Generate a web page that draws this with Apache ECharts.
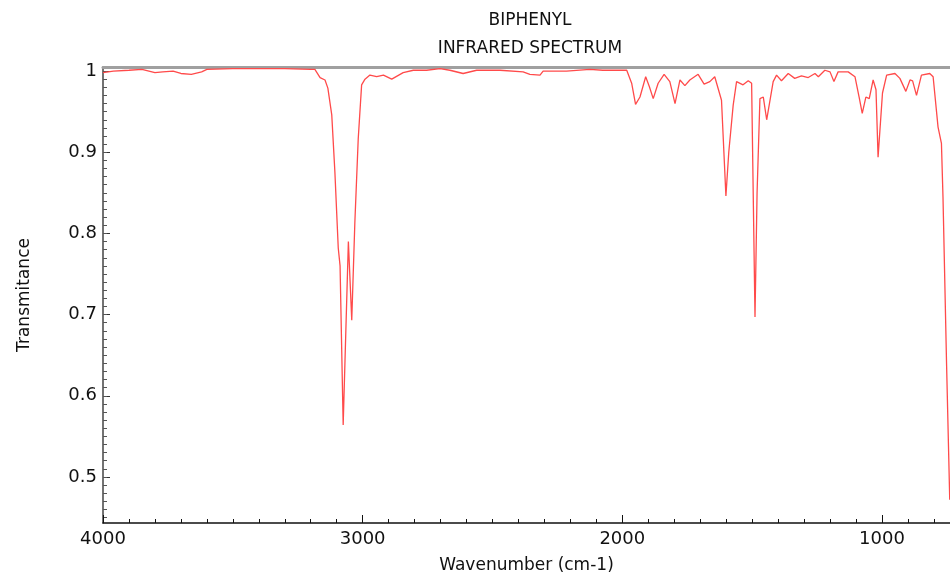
<!DOCTYPE html>
<html>
<head>
<meta charset="utf-8">
<script src="https://cdn.jsdelivr.net/npm/echarts@6/dist/echarts.min.js"></script>
<style>
  html, body { margin: 0; padding: 0; background: #fff; }
  #chart { width: 950px; height: 576px; }
</style>
</head>
<body>
<div id="chart"></div>
<script>
// wavenumber (cm-1)
const wavenumbers = [
  4000, 3960, 3900, 3850, 3800, 3770, 3730, 3700, 3660, 3620, 3600, 3500, 3400, 3300, 3200,
  3184, 3164, 3145, 3134, 3119, 3107, 3094, 3087, 3075, 3055, 3042, 3030, 3017, 3004, 2991,
  2972, 2946, 2920, 2888, 2844, 2805, 2754, 2702, 2664, 2613, 2561, 2471, 2382, 2356, 2317,
  2305, 2215, 2125, 2075, 1983, 1977, 1964, 1949, 1932, 1910, 1896, 1881, 1862, 1839, 1817,
  1797, 1778, 1759, 1740, 1708, 1685, 1663, 1644, 1618, 1601, 1590, 1573, 1560, 1535, 1515,
  1502, 1489, 1481, 1470, 1457, 1444, 1438, 1419, 1406, 1387, 1361, 1336, 1310, 1284, 1258,
  1245, 1220, 1200, 1185, 1169, 1130, 1104, 1088, 1076, 1062, 1049, 1034, 1023, 1015, 998,
  982, 950, 931, 908, 892, 882, 867, 848, 816, 803, 784, 771, 765, 751, 739
];
// transmittance
const transmittance = [
  0.998, 1.000, 1.001, 1.002, 0.998, 0.999, 1.000, 0.997, 0.996, 0.999, 1.002, 1.003, 1.003, 1.003, 1.002,
  1.002, 0.992, 0.989, 0.979, 0.946, 0.876, 0.782, 0.760, 0.564, 0.790, 0.693, 0.814, 0.917, 0.983, 0.990,
  0.995, 0.993, 0.995, 0.990, 0.998, 1.001, 1.001, 1.003, 1.001, 0.997, 1.001, 1.001, 0.999, 0.996, 0.995,
  1.000, 1.000, 1.002, 1.001, 1.001, 1.000, 0.985, 0.959, 0.968, 0.993, 0.981, 0.966, 0.985, 0.996, 0.987,
  0.960, 0.989, 0.982, 0.989, 0.996, 0.984, 0.987, 0.993, 0.964, 0.846, 0.900, 0.958, 0.987, 0.983, 0.988,
  0.985, 0.697, 0.850, 0.966, 0.968, 0.940, 0.938, 0.987, 0.995, 0.988, 0.997, 0.991, 0.994, 0.992, 0.997,
  0.993, 1.001, 0.999, 0.987, 0.999, 0.999, 0.993, 0.968, 0.948, 0.968, 0.966, 0.989, 0.977, 0.894, 0.973,
  0.995, 0.997, 0.991, 0.975, 0.989, 0.988, 0.970, 0.995, 0.997, 0.993, 0.931, 0.911, 0.845, 0.636, 0.472
];
const xLabels = [4000, 3000, 2000, 1000];
const yLabels = [0.5, 0.6, 0.7, 0.8, 0.9, 1];

const xMinor = [];
for (let v = 800; v <= 3900; v += 100) xMinor.push(v);
const yMinor = [];
for (let i = 45; i <= 100; i++) yMinor.push(i / 100);

const X_MIN = 738, X_MAX = 4000;
const Y_MIN = 0.4433, Y_MAX = 1.005;
const FONT = 'DejaVu Sans';

const chart = echarts.init(document.getElementById('chart'));

const baseX = {
  type: 'value',
  min: X_MIN,
  max: X_MAX,
  inverse: true,
  gridIndex: 0,
  splitLine: {show: false}
};
const baseY = {
  type: 'value',
  min: Y_MIN,
  max: Y_MAX,
  gridIndex: 0,
  splitLine: {show: false}
};

const option = {
  animation: false,
  backgroundColor: '#fff',
  grid: {left: 103, right: 0, top: 67, bottom: 53, containLabel: false, outerBoundsMode: 'none'},
  graphic: [
    {type: 'text', x: 530, y: 21, style: {text: 'BIPHENYL', font: '17px "DejaVu Sans"', fill: '#111', textAlign: 'center', textVerticalAlign: 'middle'}},
    {type: 'text', x: 530, y: 49, style: {text: 'INFRARED SPECTRUM', font: '17px "DejaVu Sans"', fill: '#111', textAlign: 'center', textVerticalAlign: 'middle'}}
  ],
  xAxis: [
    Object.assign({}, baseX, {
      position: 'bottom',
      name: 'Wavenumber (cm-1)',
      nameLocation: 'middle',
      nameGap: 34,
      nameTextStyle: {fontFamily: FONT, fontSize: 17, color: '#111'},
      axisLine: {show: true, lineStyle: {color: '#111', width: 1.5}},
      axisTick: {show: true, inside: true, length: 8, customValues: xLabels, lineStyle: {color: '#111', width: 1}},
      axisLabel: {show: true, customValues: xLabels, formatter: v => String(v), margin: 7, fontFamily: FONT, fontSize: 18, color: '#111'}
    }),
    Object.assign({}, baseX, {
      position: 'bottom',
      axisLine: {show: false},
      axisTick: {show: true, inside: true, length: 4, customValues: xMinor, lineStyle: {color: '#111', width: 1}},
      axisLabel: {show: false}
    }),
    Object.assign({}, baseX, {
      position: 'top',
      axisLine: {show: true, lineStyle: {color: '#a0a0a0', width: 3}},
      axisTick: {show: false},
      axisLabel: {show: false}
    })
  ],
  yAxis: [
    Object.assign({}, baseY, {
      position: 'left',
      name: 'Transmitance',
      nameLocation: 'middle',
      nameGap: 70,
      nameRotate: 90,
      nameTextStyle: {fontFamily: FONT, fontSize: 17, color: '#111'},
      axisLine: {show: true, lineStyle: {color: '#444', width: 1.5}},
      axisTick: {show: true, inside: true, length: 7, customValues: yLabels, lineStyle: {color: '#333', width: 1}},
      axisLabel: {show: true, customValues: yLabels, formatter: v => String(v), margin: 6, fontFamily: FONT, fontSize: 18, color: '#111'}
    }),
    Object.assign({}, baseY, {
      position: 'left',
      axisLine: {show: false},
      axisTick: {show: true, inside: true, length: 4, customValues: yMinor, lineStyle: {color: '#555', width: 1}},
      axisLabel: {show: false}
    })
  ],
  series: [
    {
      type: 'line',
      xAxisIndex: 0,
      yAxisIndex: 0,
      data: wavenumbers.map((w, i) => [w, transmittance[i]]),
      showSymbol: false,
      smooth: false,
      lineStyle: {color: '#ff4a4a', width: 1.3},
      clip: true
    }
  ]
};

chart.setOption(option);
</script>
</body>
</html>
